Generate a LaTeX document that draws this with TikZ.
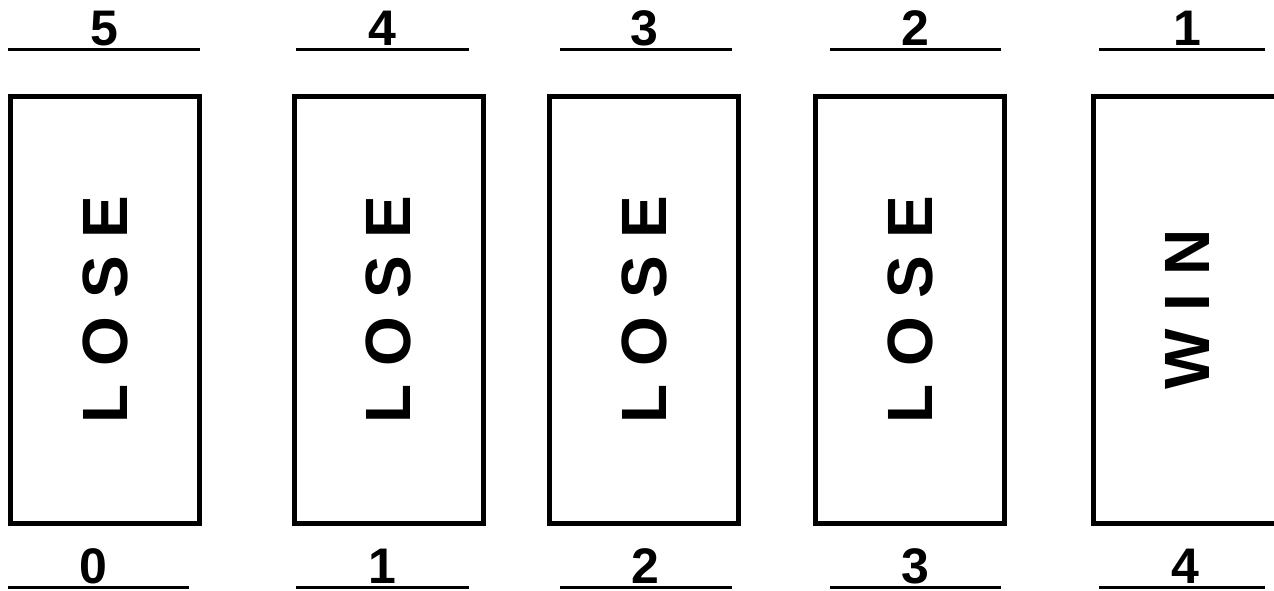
\documentclass[tikz,border=0pt]{standalone}
\usepackage{fontspec}
\setmainfont{Liberation Sans}

\begin{document}
\begin{tikzpicture}[x=0.5pt, y=-0.5pt,
  card/.style={draw, line width=2.5pt, rotate=90, minimum width=213.5pt, minimum height=94.5pt,
    inner sep=0pt, font=\fontsize{32}{38}\selectfont\bfseries},
  num/.style={anchor=base, inner sep=0pt, font=\fontsize{25}{30}\selectfont\bfseries},
  blank/.style={line width=1.5pt}]
\useasboundingbox (0,0) rectangle (1274,590);
\clip (0,0) rectangle (1274,590);

% cards
\node[card] (card1) at (105,309.5) {L O S E};
\node[card] (card2) at (388.5,309.5) {L O S E};
\node[card] (card3) at (644,309.5) {L O S E};
\node[card] (card4) at (910,309.5) {L O S E};
\node[card] (card5) at (1187.5,309.5) {W I N};

% top numbers
\foreach \x/\a/\b/\n in {104/8/200/5, 382/296/469/4, 644/560/732/3, 915/830/1001/2, 1187/1099/1265/1} {
  \node[num] (top\n) at (\x,45) {\n};
  \draw[blank] (\a,49) -- (\b,49);
}

% bottom numbers
\foreach \x/\a/\b/\n in {93/8/189/0, 382/296/469/1, 645/560/732/2, 915/830/1001/3, 1185/1099/1265/4} {
  \node[num] (bot\n) at (\x,583) {\n};
  \draw[blank] (\a,587) -- (\b,587);
}
\end{tikzpicture}
\end{document}
